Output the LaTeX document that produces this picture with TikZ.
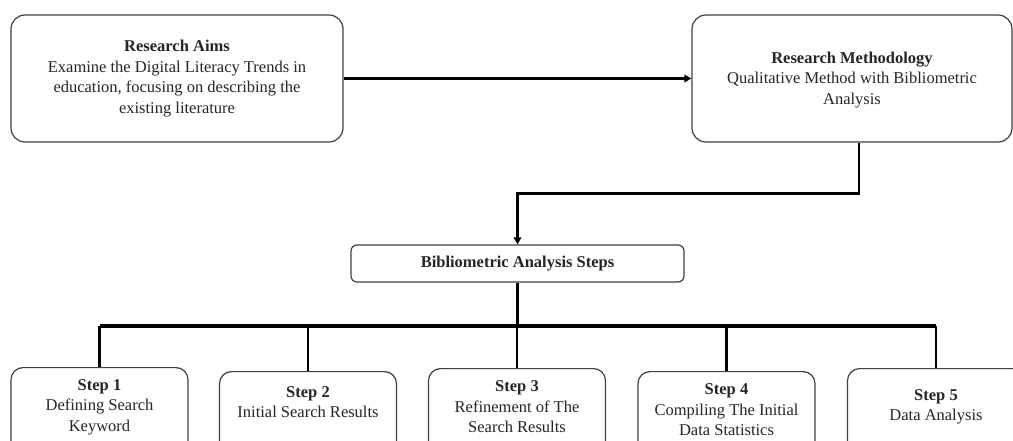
\documentclass[tikz,border=0pt]{standalone}
\usepackage{fontspec}
\setmainfont{Liberation Serif}
\usetikzlibrary{arrows.meta}
\begin{document}
\begin{tikzpicture}[x=1pt,y=-1pt,
  box/.style={draw=black!75,line width=1.2pt,rounded corners=14pt,inner sep=0pt,fill=white},
  stepbox/.style={box,rounded corners=12pt,anchor=north,minimum width=177pt,minimum height=110pt},
  txt/.style={align=center,font=\fontsize{16.5}{20.5}\selectfont,inner sep=0pt,text=black!85},
  conn/.style={line width=2.8pt,black},
  tip/.style={-{Triangle[length=7pt,width=7.5pt]}}]
\useasboundingbox (0,0) rectangle (1013,441);
\clip (0,0) rectangle (1013,441);
\fill[white] (0,0) rectangle (1013,441);
% top boxes
\node[box,minimum width=332pt,minimum height=127pt] (ra) at (177,78.5) {};
\node[txt] (rat) at (177,78.5) {\textbf{Research Aims}\\Examine the Digital Literacy Trends in\\education, focusing on describing the\\existing literature};
\node[box,minimum width=320pt,minimum height=127pt] (rm) at (852,78.5) {};
\node[txt] (rmt) at (852,80) {\textbf{Research Methodology}\\Qualitative Method with Bibliometric\\Analysis};
% middle box
\node[box,rounded corners=6pt,minimum width=333pt,minimum height=37pt] (bas) at (517.5,263.5) {};
\node[txt] (bast) at (517.5,264) {\textbf{Bibliometric Analysis Steps}};
% step boxes
\node[stepbox] (s1) at (99.5,367) {};
\node[stepbox] (s2) at (308,371) {};
\node[stepbox] (s3) at (517,368) {};
\node[stepbox] (s4) at (726.5,371) {};
\node[stepbox] (s5) at (936,368) {};
\node[txt] (s1t) at (99.5,407) {\textbf{Step 1}\\Defining Search\\Keyword};
\node[txt] (s2t) at (308,402) {\textbf{Step 2}\\Initial Search Results};
\node[txt] (s3t) at (517,407) {\textbf{Step 3}\\Refinement of The\\Search Results};
\node[txt] (s4t) at (726.5,410) {\textbf{Step 4}\\Compiling The Initial\\Data Statistics};
\node[txt] (s5t) at (936,407) {\textbf{Step 5}\\Data Analysis};
% connectors
\draw[conn,tip] (ra.east) -- (rm.west);
\draw[conn,tip] ([xshift=7pt]rm.south) -- ++(0,51) -| (bas.north);
\coordinate (hub) at (517.5,326);
\draw[conn] (bas.south) -- (hub);
\draw[conn,line width=3.2pt] (s1.north |- hub) -- (s5.north |- hub);
\foreach \s in {s1,s2,s3,s4,s5}
  \draw[conn] (\s.north |- hub) -- (\s.north);
\end{tikzpicture}
\end{document}
